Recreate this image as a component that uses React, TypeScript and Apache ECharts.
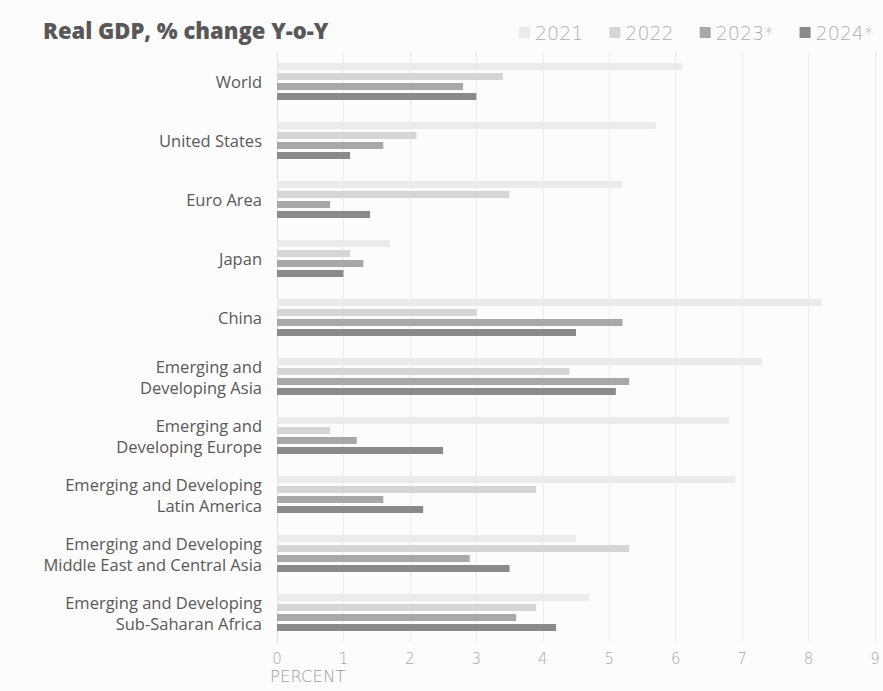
import React, { useEffect, useRef } from "react";
import * as echarts from "echarts";

const categories = [
  "World",
  "United States",
  "Euro Area",
  "Japan",
  "China",
  "Emerging and\nDeveloping Asia",
  "Emerging and\nDeveloping Europe",
  "Emerging and Developing\nLatin America",
  "Emerging and Developing\nMiddle East and Central Asia",
  "Emerging and Developing\nSub-Saharan Africa",
];

const seriesNames = ["2021", "2022", "2023*", "2024*"];

const values2021 = [6.1, 5.7, 5.2, 1.7, 8.2, 7.3, 6.8, 6.9, 4.5, 4.7];
const values2022 = [3.4, 2.1, 3.5, 1.1, 3.0, 4.4, 0.8, 3.9, 5.3, 3.9];
const values2023 = [2.8, 1.6, 0.8, 1.3, 5.2, 5.3, 1.2, 1.6, 2.9, 3.6];
const values2024 = [3.0, 1.1, 1.4, 1.0, 4.5, 5.1, 2.5, 2.2, 3.5, 4.2];

const xTicks = [0, 1, 2, 3, 4, 5, 6, 7, 8, 9];

const colors = ["#ebebeb", "#d5d5d5", "#a8a8a8", "#8a8a8a"];

export default function App() {
  const ref = useRef<HTMLDivElement>(null);
  useEffect(() => {
    if (!ref.current) return;
    const chart = echarts.init(ref.current, undefined, { renderer: "svg" });
    const data = [values2021, values2022, values2023, values2024];
    chart.setOption({
      animation: false,
      backgroundColor: "#fcfcfc",
      title: {
        text: "Real GDP, % change Y-o-Y",
        left: 38,
        top: 14,
        textStyle: {
          fontFamily: "Open Sans",
          fontWeight: 800,
          fontSize: 22,
          color: "#585858",
        },
      },
      legend: {
        left: 514,
        top: 18,
        width: 369,
        itemWidth: 11,
        itemHeight: 11,
        itemGap: 26,
        icon: "rect",
        textStyle: {
          fontFamily: "DejaVu Sans",
          fontWeight: 200,
          fontSize: 19,
          color: "#b0b0b0",
        },
        data: seriesNames,
      },
      grid: { left: 277, right: 8, top: 52, bottom: 49, containLabel: false },
      xAxis: {
        type: "value",
        min: xTicks[0],
        max: xTicks[xTicks.length - 1],
        interval: 1,
        axisLine: { show: false },
        axisTick: { show: false },
        splitLine: { show: true, lineStyle: { color: "#ececec", width: 1 } },
        axisLabel: {
          margin: 9,
          fontFamily: "DejaVu Sans",
          fontWeight: 200,
          fontSize: 15,
          color: "#a8a8a8",
        },
      },
      yAxis: {
        type: "category",
        inverse: true,
        data: categories,
        axisLine: { show: true, lineStyle: { color: "#e0e0e0" } },
        axisTick: { show: false },
        axisLabel: {
          margin: 15,
          fontFamily: "Open Sans",
          fontSize: 16.5,
          lineHeight: 21,
          color: "#595959",
          align: "right",
        },
      },
      graphic: [
        {
          type: "text",
          left: 270,
          top: 668,
          style: {
            text: "PERCENT",
            fontFamily: "DejaVu Sans",
            fontWeight: 200,
            fontSize: 16.5,
            fill: "#9d9d9d",
          },
        },
      ],
      series: seriesNames.map((name, i) => ({
        name,
        type: "bar",
        data: data[i],
        barWidth: 7,
        barGap: "43%",
        itemStyle: { color: colors[i] },
      })),
    });
    return () => chart.dispose();
  }, []);
  return (
    <div
      ref={ref}
      style={{ position: "fixed", left: 0, top: 0, width: 883, height: 691 }}
    />
  );
}
